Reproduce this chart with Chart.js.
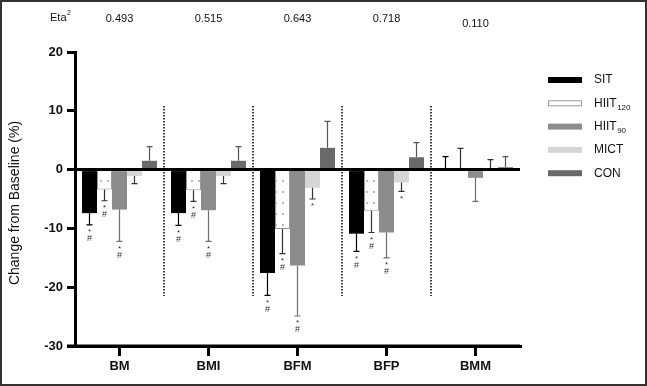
<!DOCTYPE html>
<html>
<head>
<meta charset="utf-8">
<script src="https://cdn.jsdelivr.net/npm/chart.js@4.4.1/dist/chart.umd.min.js"></script>
<style>
  html, body { margin: 0; padding: 0; background: #fff; }
  #wrap { width: 647px; height: 386px; }
</style>
</head>
<body>
<div id="wrap"><canvas id="chart" width="647" height="386"></canvas></div>
<script>
const categories = ['BM', 'BMI', 'BFM', 'BFP', 'BMM'];
const etaValues = ['0.493', '0.515', '0.643', '0.718', '0.110'];

const seriesNames = ['SIT', 'HIIT', 'HIIT', 'MICT', 'CON'];
const seriesSubs = ['', '120', '90', '', ''];

// mean change (%) and SD
const sitMean = [-7.4, -7.4, -17.6, -10.9, 0.2];
const sitErr = [2.0, 2.1, 3.8, 3.0, 2.0];
const hiit120Mean = [-3.4, -3.5, -10.1, -7.0, 0.2];
const hiit120Err = [1.9, 1.9, 4.2, 3.7, 3.4];
const hiit90Mean = [-6.8, -6.9, -16.3, -10.7, -1.4];
const hiit90Err = [5.4, 5.3, 8.6, 4.3, 4.0];
const mictMean = [-1.1, -1.1, -3.1, -2.2, 0.2];
const mictErr = [1.3, 1.3, 1.9, 1.5, 1.5];
const conMean = [1.5, 1.5, 3.7, 2.1, 0.4];
const conErr = [2.4, 2.4, 4.5, 2.5, 1.8];

// significance marks under each bar
const sitSig = ['*#', '*#', '*#', '*#', ''];
const hiit120Sig = ['*#', '*#', '*#', '*#', ''];
const hiit90Sig = ['*#', '*#', '*#', '*#', ''];
const mictSig = ['', '', '*', '*', ''];
const conSig = ['', '', '', '', ''];

const yTicks = [20, 10, 0, -10, -20, -30];

// dotted fill for HIIT120
function dotPattern() {
    const c = document.createElement('canvas');
    c.width = 7; c.height = 11;
    const g = c.getContext('2d');
    g.fillStyle = '#fff';
    g.fillRect(0, 0, 7, 11);
    g.fillStyle = '#9a9a9a';
    g.beginPath();
    g.arc(3, 5, 0.9, 0, Math.PI * 2);
    g.fill();
    return document.getElementById('chart').getContext('2d').createPattern(c, 'repeat');
}

const fills = ['#000000', dotPattern(), '#8c8c8c', '#d6d6d6', '#6a6a6a'];
const swatchFills = ['#000000', '#ffffff', '#8c8c8c', '#d6d6d6', '#6a6a6a'];
const borders = ['#000000', '#9a9a9a', '#8c8c8c', '#d6d6d6', '#6a6a6a'];
const errColors = ['#000000', '#333333', '#6e6e6e', '#333333', '#555555'];

const means = [sitMean, hiit120Mean, hiit90Mean, mictMean, conMean];
const errs = [sitErr, hiit120Err, hiit90Err, mictErr, conErr];
const sigs = [sitSig, hiit120Sig, hiit90Sig, mictSig, conSig];

const datasets = means.map((m, i) => ({
    label: seriesNames[i] + seriesSubs[i],
    data: m,
    err: errs[i],
    sig: sigs[i],
    backgroundColor: fills[i],
    borderColor: borders[i],
    borderWidth: i === 1 ? 1 : 0,
    errColor: errColors[i],
    categoryPercentage: 0.843,
    barPercentage: 1.0
}));

const extras = {
    id: 'extras',
    afterDatasetsDraw(chart) {
        const ctx = chart.ctx;
        const xs = chart.scales.x, ys = chart.scales.y;
        const area = chart.chartArea;
        ctx.save();

        // error bars and significance marks
        chart.data.datasets.forEach((ds, di) => {
            const meta = chart.getDatasetMeta(di);
            meta.data.forEach((bar, j) => {
                const v = ds.data[j];
                const dir = v >= 0 ? 1 : -1;
                const y0 = ys.getPixelForValue(v);
                const y1 = ys.getPixelForValue(v + dir * ds.err[j]);
                ctx.strokeStyle = ds.errColor;
                ctx.lineWidth = 1.2;
                ctx.beginPath();
                ctx.moveTo(bar.x, y0);
                ctx.lineTo(bar.x, y1);
                ctx.moveTo(bar.x - 3, y1);
                ctx.lineTo(bar.x + 3, y1);
                ctx.stroke();
                const s = ds.sig[j];
                ctx.fillStyle = '#333';
                ctx.textAlign = 'center';
                ctx.textBaseline = 'middle';
                if (s.includes('*')) {
                    ctx.font = '8px "Liberation Sans", Arial';
                    ctx.fillText('*', bar.x, y1 + 7);
                }
                if (s.includes('#')) {
                    ctx.font = '9px "Liberation Sans", Arial';
                    ctx.fillText('#', bar.x, y1 + 14);
                }
            });
        });

        // zero line
        const yz = ys.getPixelForValue(0);
        ctx.strokeStyle = '#000';
        ctx.lineWidth = 3;
        ctx.beginPath();
        ctx.moveTo(area.left - 8, yz);
        ctx.lineTo(area.right, yz);
        ctx.stroke();

        // bottom axis extends under the y ticks
        ctx.beginPath();
        ctx.moveTo(area.left - 8, area.bottom);
        ctx.lineTo(area.right, area.bottom);
        ctx.stroke();

        // dotted separators between groups
        const step = xs.width / categories.length;
        ctx.lineWidth = 1.5;
        ctx.setLineDash([1.5, 1.5]);
        for (let i = 0; i < categories.length - 1; i++) {
            const x = xs.getPixelForValue(i) + step / 2;
            ctx.beginPath();
            ctx.moveTo(x, ys.getPixelForValue(10.8));
            ctx.lineTo(x, ys.getPixelForValue(-21.5));
            ctx.stroke();
        }
        ctx.setLineDash([]);

        // Eta squared row
        ctx.fillStyle = '#111';
        ctx.textBaseline = 'middle';
        ctx.font = '11px "Liberation Sans", Arial';
        ctx.textAlign = 'left';
        ctx.fillText('Eta', 50, 18);
        const etaW = ctx.measureText('Eta').width;
        ctx.font = '7px "Liberation Sans", Arial';
        ctx.fillText('2', 50 + etaW + 0.5, 13);
        ctx.font = '11px "Liberation Sans", Arial';
        ctx.textAlign = 'center';
        etaValues.forEach((t, i) => {
            ctx.fillText(t, xs.getPixelForValue(i), i === 4 ? 24 : 19);
        });

        // y axis title
        ctx.save();
        ctx.translate(15, 203);
        ctx.rotate(-Math.PI / 2);
        ctx.font = '14px "Liberation Sans", Arial';
        ctx.fillStyle = '#111';
        ctx.textAlign = 'center';
        ctx.fillText('Change from Baseline (%)', 0, 0);
        ctx.restore();

        // legend
        const lx = 548, ly = 80, gap = 23.3;
        chart.data.datasets.forEach((ds, i) => {
            const y = ly + i * gap;
            ctx.fillStyle = swatchFills[i];
            ctx.fillRect(lx, y - 3, 34, 6);
            if (i === 1) {
                ctx.strokeStyle = '#999';
                ctx.lineWidth = 1;
                ctx.strokeRect(lx + 0.5, y - 2.5, 33, 5);
            }
            ctx.fillStyle = '#111';
            ctx.textAlign = 'left';
            ctx.font = '12px "Liberation Sans", Arial';
            ctx.fillText(seriesNames[i], lx + 46, y);
            if (seriesSubs[i]) {
                const w = ctx.measureText(seriesNames[i]).width;
                ctx.font = '8px "Liberation Sans", Arial';
                ctx.fillText(seriesSubs[i], lx + 46 + w + 0.5, y + 4);
            }
        });

        // outer frame
        ctx.strokeStyle = '#333';
        ctx.lineWidth = 2;
        ctx.strokeRect(1, 1, chart.width - 2, chart.height - 2);
        ctx.restore();
    }
};

new Chart(document.getElementById('chart'), {
    type: 'bar',
    data: { labels: categories, datasets: datasets },
    options: {
        responsive: false,
        animation: false,
        layout: { padding: { left: 0, right: 127, top: 52, bottom: 0 } },
        plugins: { legend: { display: false }, tooltip: { enabled: false } },
        scales: {
            x: {
                afterFit: s => { s.height = 40; },
                grid: { drawOnChartArea: false, offset: false, tickLength: 10, lineWidth: 3, color: '#000' },
                border: { display: true, width: 3, color: '#000' },
                ticks: { color: '#111', padding: 3, font: { family: '"Liberation Sans", Arial', size: 13, weight: 'bold' } }
            },
            y: {
                min: -30, max: 20,
                afterFit: s => { s.width = 75; },
                afterBuildTicks: s => { s.ticks = yTicks.map(v => ({ value: v })); },
                grid: { drawOnChartArea: false, tickLength: 8, lineWidth: 3, color: '#000' },
                border: { display: true, width: 3, color: '#000' },
                ticks: { color: '#111', padding: 4, font: { family: '"Liberation Sans", Arial', size: 13, weight: 'bold' } }
            }
        }
    },
    plugins: [extras]
});
</script>
</body>
</html>
